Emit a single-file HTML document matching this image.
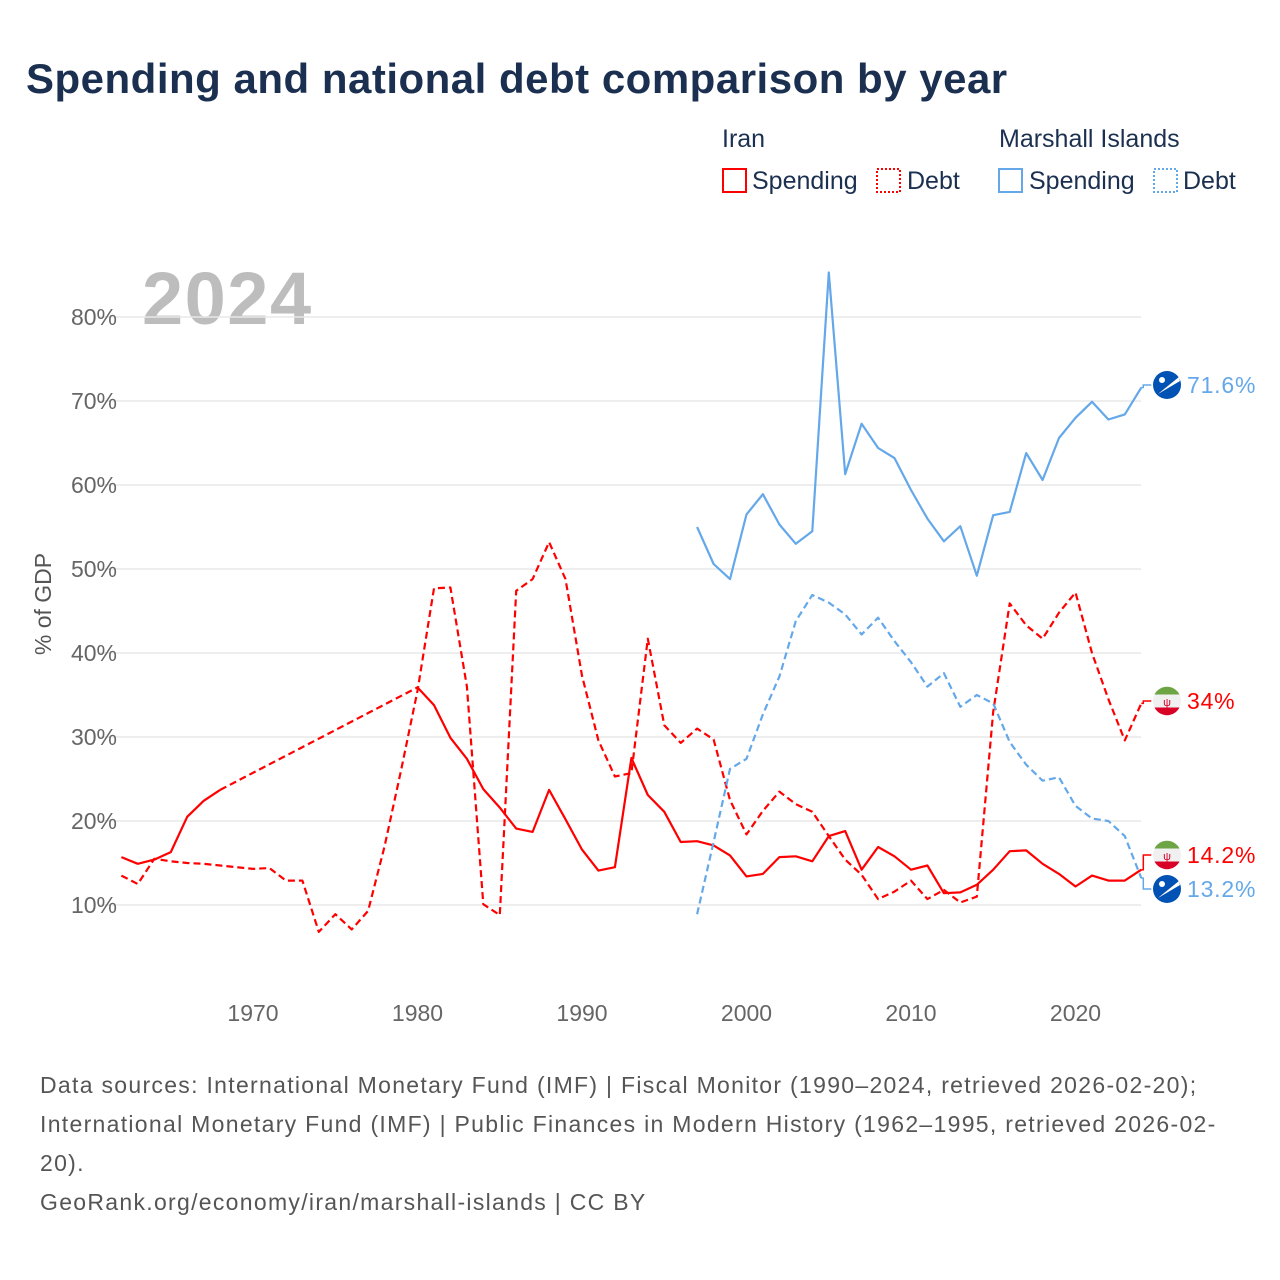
<!DOCTYPE html>
<html><head><meta charset="utf-8"><style>
body{margin:0;background:#fff;font-family:"Liberation Sans",sans-serif;}
#wrap{position:relative;width:1280px;height:1280px;overflow:hidden;}
svg text{font-family:"Liberation Sans",sans-serif;}
</style></head><body>
<div id="wrap">
<svg id="chart" width="1280" height="1280">
<text x="26" y="93" font-size="42" font-weight="bold" fill="#1b3050" letter-spacing="0.5">Spending and national debt comparison by year</text>
<g font-size="25" fill="#1b3050">
<text x="722" y="147">Iran</text>
<rect x="723" y="169" width="23" height="23" fill="none" stroke="#ff0000" stroke-width="2"/>
<text x="752" y="189">Spending</text>
<rect x="877" y="169" width="23" height="23" fill="none" stroke="#ff0000" stroke-width="2" stroke-dasharray="2,2"/>
<text x="907" y="189">Debt</text>
<text x="999" y="147">Marshall Islands</text>
<rect x="999" y="169" width="23" height="23" fill="none" stroke="#64a8ea" stroke-width="2"/>
<text x="1029" y="189">Spending</text>
<rect x="1154" y="169" width="23" height="23" fill="none" stroke="#64a8ea" stroke-width="2" stroke-dasharray="2,2"/>
<text x="1183" y="189">Debt</text>
</g>
<text x="142" y="324" font-size="74" font-weight="bold" fill="#bdbdbd" letter-spacing="1.5">2024</text>
<text transform="translate(51,604) rotate(-90)" text-anchor="middle" font-size="23" fill="#555">% of GDP</text>
<g id="grid"></g><g id="series"></g><g id="ends"></g>
<g font-size="23" fill="#555" letter-spacing="1.3">
<text x="40" y="1093">Data sources: International Monetary Fund (IMF) | Fiscal Monitor (1990–2024, retrieved 2026-02-20);</text>
<text x="40" y="1132">International Monetary Fund (IMF) | Public Finances in Modern History (1962–1995, retrieved 2026-02-</text>
<text x="40" y="1171">20).</text>
<text x="40" y="1210">GeoRank.org/economy/iran/marshall-islands | CC BY</text>
</g>
</svg>
</div>
<script>
const yTicks=[10,20,30,40,50,60,70,80];
const xTicks=[1970,1980,1990,2000,2010,2020];
const iranYears=[1962,1963,1964,1965,1966,1967,1968,1969,1970,1971,1972,1973,1974,1975,1976,1977,1978,1979,1980,1981,1982,1983,1984,1985,1986,1987,1988,1989,1990,1991,1992,1993,1994,1995,1996,1997,1998,1999,2000,2001,2002,2003,2004,2005,2006,2007,2008,2009,2010,2011,2012,2013,2014,2015,2016,2017,2018,2019,2020,2021,2022,2023,2024];
const iranSpending=[15.7,14.9,15.4,16.3,20.5,22.4,23.7,null,null,null,null,null,null,null,null,null,null,null,35.9,33.8,29.9,27.4,23.8,21.6,19.1,18.7,23.7,20.2,16.6,14.1,14.5,27.5,23.1,21.1,17.5,17.6,17.1,15.9,13.4,13.7,15.7,15.8,15.2,18.2,18.8,14.2,16.9,15.8,14.2,14.7,11.4,11.5,12.4,14.2,16.4,16.5,14.9,13.7,12.2,13.5,12.9,12.9,14.2];
const iranDebt=[13.5,12.5,15.5,15.2,15.0,14.9,14.7,14.5,14.3,14.4,12.9,12.9,6.8,8.9,7.1,9.3,17,26,35.5,47.7,47.8,36,10.1,8.8,47.4,48.8,53.2,48.8,37.3,29.6,25.3,25.7,41.7,31.4,29.3,31,29.7,22.5,18.4,21.2,23.5,22,21.1,18.2,15.4,13.6,10.7,11.6,12.9,10.7,11.8,10.3,11,33,45.9,43.3,41.7,44.8,47.2,40,34.5,29.6,34.0];
const mhYears=[1997,1998,1999,2000,2001,2002,2003,2004,2005,2006,2007,2008,2009,2010,2011,2012,2013,2014,2015,2016,2017,2018,2019,2020,2021,2022,2023,2024];
const mhSpending=[55.0,50.6,48.8,56.5,58.9,55.3,53,54.5,85.3,61.3,67.3,64.4,63.2,59.4,56,53.3,55.1,49.2,56.4,56.8,63.8,60.6,65.6,68,69.9,67.8,68.4,71.6];
const mhDebt=[8.9,17.5,26.2,27.4,32.7,37.2,43.8,46.9,46,44.6,42.2,44.2,41.4,38.9,36,37.6,33.6,35,34,29.4,26.7,24.8,25.2,21.8,20.3,20,18.2,13.2];
const NS='http://www.w3.org/2000/svg';
const X=y=>121.4+(y-1962)*16.45;
const Y=v=>989-v*8.4;
function mk(t,a,p){const e=document.createElementNS(NS,t);for(const k in a)e.setAttribute(k,a[k]);p.appendChild(e);return e;}
const grid=document.getElementById('grid');
yTicks.forEach(t=>{
 const l=mk('line',{x1:100,x2:1141,y1:Y(t),y2:Y(t),stroke:'#e8e8e8','stroke-width':1.5},grid);
 
 
 const tx=mk('text',{x:117,y:Y(t)+8,'text-anchor':'end','font-size':23,fill:'#666'},grid);
 tx.textContent=t+'%';
 
 
});
xTicks.forEach(t=>{
 const tx=mk('text',{x:X(t),y:1021,'text-anchor':'middle','font-size':23,fill:'#666'},grid);
 tx.textContent=t;
 
 
});
const ser=document.getElementById('series');
function draw(years,vals,color,dashed,name){
 let d='',gap='',prev=null,pen=false;
 years.forEach((yr,i)=>{const v=vals[i];if(v==null){pen=false;return;}
  const p=X(yr).toFixed(1)+','+Y(v).toFixed(1);
  if(prev&&!pen&&prev.i!==i-1)gap+='M'+prev.p+'L'+p;
  d+=(pen?'L':'M')+p;pen=true;prev={p,i};});
 const pa=mk('path',{d,fill:'none',stroke:color,'stroke-width':2.2,'stroke-linejoin':'round','stroke-dasharray':dashed?'7,4':'none'},ser);
 
 
 if(gap){const g=mk('path',{d:gap,fill:'none',stroke:color,'stroke-width':2.2,'stroke-dasharray':'7,4'},ser);
 
 }
}
draw(iranYears,iranDebt,'#ff0000',true,'iran-debt-line');
draw(iranYears,iranSpending,'#ff0000',false,'iran-spending-line');
draw(mhYears,mhDebt,'#64a8ea',true,'marshall-debt-line');
draw(mhYears,mhSpending,'#64a8ea',false,'marshall-spending-line');
const ends=document.getElementById('ends');
function endLabel(v,ly,color,flag,name){
 const x0=X(2024);
 const c=mk('path',{d:`M${x0},${Y(v)}L${x0+2},${Y(v)}L${x0+2},${ly}L${x0+10},${ly}`,fill:'none',stroke:color,'stroke-width':1.5},ends);
 
 
 const g=mk('g',{},ends);
 
 
 const cx=1167;
 if(flag==='ir'){
  mk('circle',{cx,cy:ly,r:14,fill:'#f0f0f0'},g);
  mk('path',{d:`M${cx-12.5},${ly-6.5}A14,14 0 0 1 ${cx+12.5},${ly-6.5}Z`,fill:'#6da544'},g);
  mk('path',{d:`M${cx-12.5},${ly+6.5}A14,14 0 0 0 ${cx+12.5},${ly+6.5}Z`,fill:'#d80027'},g);
  mk('text',{x:cx,y:ly+5,'text-anchor':'middle','font-size':11,fill:'#d80027'},g).textContent='ψ';
 }else{
  mk('circle',{cx,cy:ly,r:14,fill:'#0052b4'},g);
  mk('path',{d:`M${cx-9},${ly+9}L${cx+12},${ly-8}L${cx+6},${ly-1}Z`,fill:'#ff9811'},g);
  mk('path',{d:`M${cx-9},${ly+9}L${cx+12},${ly-8}L${cx+13},${ly-4}Z`,fill:'#fff'},g);
  mk('circle',{cx:cx-5,cy:ly-5,r:3,fill:'#fff'},g);
 }
 const t=mk('text',{x:1187,y:ly+8,'font-size':23,fill:color,'letter-spacing':0.8},ends);
 t.textContent=(Math.round(v*10)/10)+'%';
 
 
}
endLabel(mhSpending[mhSpending.length-1],385,'#64a8ea','mh','marshall-spending-end');
endLabel(iranDebt[iranDebt.length-1],701,'#ff0000','ir','iran-debt-end');
endLabel(iranSpending[iranSpending.length-1],855,'#ff0000','ir','iran-spending-end');
endLabel(mhDebt[mhDebt.length-1],889,'#64a8ea','mh','marshall-debt-end');
</script>
</body></html>
